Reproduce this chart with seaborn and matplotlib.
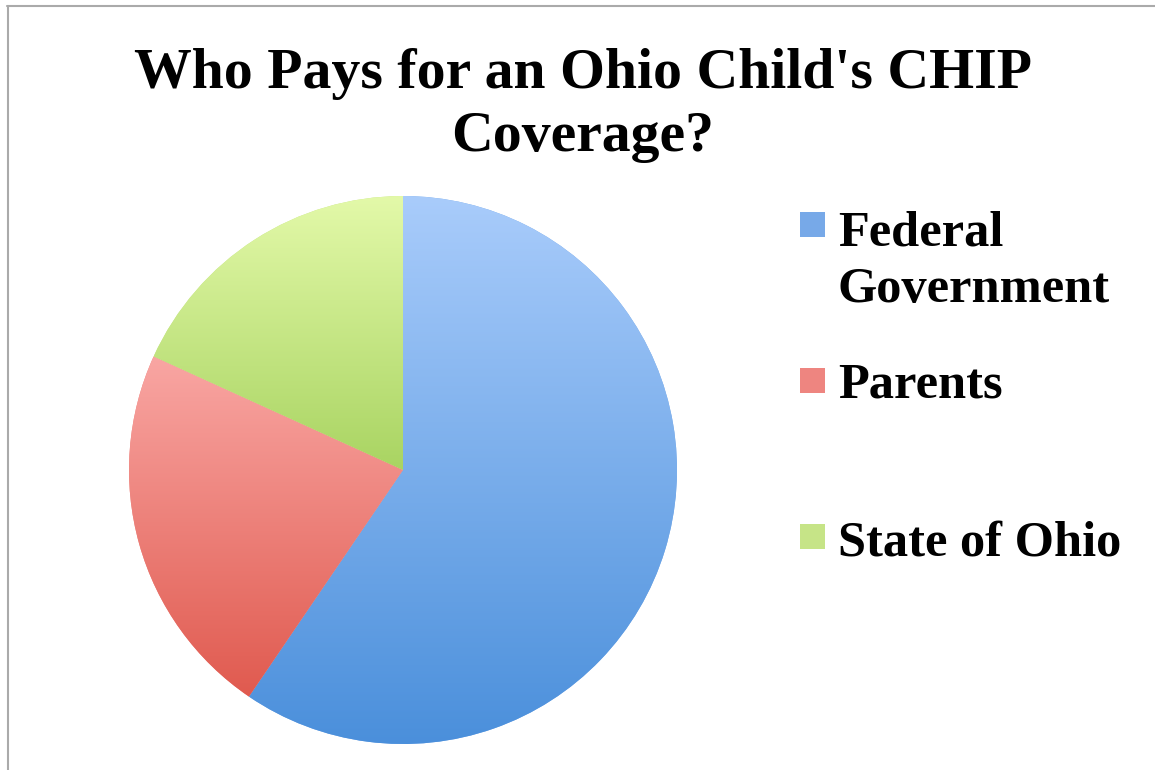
import numpy as np
import matplotlib
matplotlib.use("Agg")
import matplotlib.pyplot as plt
import seaborn as sns
from matplotlib.colors import to_rgb
from matplotlib.patches import Rectangle
from matplotlib.lines import Line2D

categories = ["Federal Government", "Parents", "State of Ohio"]
legend_labels = ["Federal\nGovernment", "Parents", "State of Ohio"]
shares = [59.5, 22.3, 18.2]
title_lines = ["Who Pays for an Ohio Child's CHIP", "Coverage?"]

top_colors = ["#a9ccfb", "#f9a6a3", "#e3f9a9"]
bottom_colors = ["#4a8fdb", "#e05a4f", "#a9d462"]
mid_colors = ["#77a9e8", "#ee8580", "#c6e487"]

sns.set_theme(style="white")
plt.rcParams["font.family"] = ["Liberation Serif", "DejaVu Serif"]

W, H = 1155, 770
fig = plt.figure(figsize=(W / 100, H / 100), dpi=100)
fig.patch.set_facecolor("white")

cx, cy, r = 403, 470, 274
ax = fig.add_axes([(cx - r) / W, (H - cy - r) / H, 2 * r / W, 2 * r / H])
wedges, _ = ax.pie(shares, colors=mid_colors, startangle=90, counterclock=False,
                   wedgeprops=dict(linewidth=0))
ax.set_xlim(-1, 1)
ax.set_ylim(-1, 1)
ax.set_aspect("equal")
ax.axis("off")

fig.canvas.draw()
renderer = fig.canvas.get_renderer()

for w, tc, bc in zip(wedges, top_colors, bottom_colors):
    pts = w.get_patch_transform().transform(w.get_path().vertices)
    x0, x1 = pts[:, 0].min(), pts[:, 0].max()
    y0, y1 = pts[:, 1].min(), pts[:, 1].max()
    t = np.linspace(0, 1, 256)[:, None]
    tcv, bcv = np.array(to_rgb(tc)), np.array(to_rgb(bc))
    img = (tcv[None, :] * (1 - t) + bcv[None, :] * t)[:, None, :]
    im = ax.imshow(img, extent=(x0, x1, y0, y1), origin="upper", aspect="auto",
                   interpolation="bilinear", zorder=2)
    im.set_clip_path(w)
ax.set_xlim(-1, 1)
ax.set_ylim(-1, 1)


def fitted_text(x, y, s, target_w, ha, size0=30):
    t = fig.text(x, y, s, ha=ha, va="baseline", fontsize=size0,
                 fontweight="bold", color="black")
    wpx = t.get_window_extent(renderer).width
    t.set_fontsize(size0 * target_w / wpx)
    return t


# title
t1 = fitted_text(583 / W, 1 - 88 / H, title_lines[0], 895, "center")
fig.text(583 / W, 1 - 151 / H, title_lines[1], ha="center", va="baseline",
         fontsize=t1.get_fontsize(), fontweight="bold", color="black")

# legend
sq = 25
entries = [(212, 246), (368, 398), (524, 555)]
ref = fitted_text(0, 0, "Government", 272, "left")
lsize = ref.get_fontsize()
ref.remove()
for (sq_top, base), lab, col in zip(entries, legend_labels, mid_colors):
    fig.patches.append(Rectangle((800 / W, 1 - (sq_top + sq) / H), sq / W, sq / H,
                                 transform=fig.transFigure, facecolor=col,
                                 edgecolor="none"))
    for i, line in enumerate(lab.split("\n")):
        fig.text(838 / W, 1 - (base + 56 * i) / H, line, ha="left",
                 va="baseline", fontsize=lsize, fontweight="bold", color="black")

# frame lines (top and left)
fig.add_artist(Line2D([7 / W, 1], [1 - 6 / H, 1 - 6 / H], transform=fig.transFigure,
                      color="#aaaaaa", linewidth=1.5))
fig.add_artist(Line2D([8 / W, 8 / W], [0, 1 - 6 / H], transform=fig.transFigure,
                      color="#aaaaaa", linewidth=1.5))

fig.savefig("out.png", dpi=100, facecolor="white")
